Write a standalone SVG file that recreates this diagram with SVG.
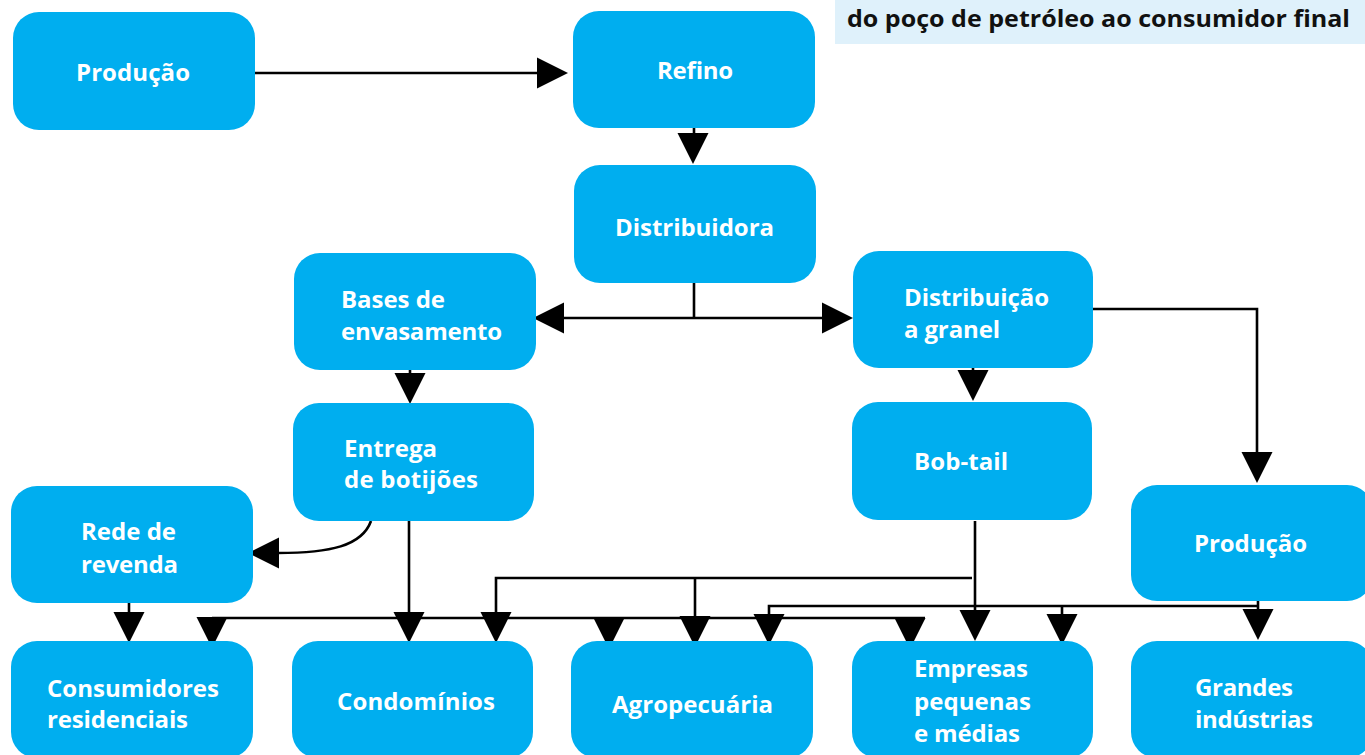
<svg xmlns="http://www.w3.org/2000/svg" xmlns:xlink="http://www.w3.org/1999/xlink" width="1365" height="755" viewBox="0 0 1365 755">
<style>
.box{fill:#00AEEF;}
.t{font-family:"Open Sans","Noto Sans","Liberation Sans",sans-serif;font-weight:700;font-size:24px;fill:#FFFFFF;}
.h{font-family:"Open Sans","Noto Sans","Liberation Sans",sans-serif;font-weight:700;font-size:23px;fill:#111111;}
.ln{fill:none;stroke:#000;stroke-width:2.6;}
.ah{fill:#000;}
</style>
<defs>
<path id="ah" class="ah" d="M-15.5,0 H15.5 L0,31 Z"/>
</defs>
<rect width="1365" height="755" fill="#FFFFFF"/>
<g id="header">
<rect x="835" y="0" width="530" height="44" fill="#DFF1FB"/>
<text class="h" x="847" y="27" textLength="503" lengthAdjust="spacingAndGlyphs">do poço de petróleo ao consumidor final</text>
</g>
<g id="connectors">
<line class="ln" x1="255" y1="73" x2="538" y2="73"/>
<use xlink:href="#ah" transform="translate(537,73) rotate(-90)"/>
<line class="ln" x1="694" y1="128" x2="694" y2="134"/>
<use xlink:href="#ah" transform="translate(693,133)"/>
<line class="ln" x1="694" y1="283" x2="694" y2="318"/>
<line class="ln" x1="563" y1="318" x2="824" y2="318"/>
<use xlink:href="#ah" transform="translate(564,318) rotate(90)"/>
<use xlink:href="#ah" transform="translate(822,318) rotate(-90)"/>
<line class="ln" x1="410" y1="370" x2="410" y2="374"/>
<use xlink:href="#ah" transform="translate(410,373)"/>
<line class="ln" x1="973" y1="368" x2="973" y2="371"/>
<use xlink:href="#ah" transform="translate(973,370)"/>
<polyline class="ln" points="1093,309 1257,309 1257,453"/>
<use xlink:href="#ah" transform="translate(1257,452)"/>
<path class="ln" d="M371,521 C362,546 330,553 278,553"/>
<use xlink:href="#ah" transform="translate(279,553) rotate(90)"/>
<line class="ln" x1="129" y1="603" x2="129" y2="613"/>
<use xlink:href="#ah" transform="translate(129,612)"/>
<line class="ln" x1="409" y1="521" x2="409" y2="613"/>
<use xlink:href="#ah" transform="translate(409,612)"/>
<line class="ln" x1="212" y1="618" x2="925" y2="618"/>
<use xlink:href="#ah" transform="translate(212,617)"/>
<use xlink:href="#ah" transform="translate(609,618)"/>
<use xlink:href="#ah" transform="translate(910,618)"/>
<line class="ln" x1="975" y1="521" x2="975" y2="611"/>
<use xlink:href="#ah" transform="translate(975,610)"/>
<polyline class="ln" points="496,613 496,578 972,578"/>
<use xlink:href="#ah" transform="translate(496,612)"/>
<line class="ln" x1="695" y1="578" x2="695" y2="617"/>
<use xlink:href="#ah" transform="translate(695,616)"/>
<line class="ln" x1="1258" y1="601" x2="1258" y2="610"/>
<use xlink:href="#ah" transform="translate(1258,609)"/>
<polyline class="ln" points="769,615 769,606 1258,606"/>
<use xlink:href="#ah" transform="translate(769,614)"/>
<line class="ln" x1="1062" y1="606" x2="1062" y2="615"/>
<use xlink:href="#ah" transform="translate(1062,614)"/>
</g>
<g id="n-producao-top">
<rect class="box" x="13" y="12" width="242" height="118" rx="26"/>
<text class="t" x="76" y="81" textLength="114">Produção</text>
</g>
<g id="n-refino">
<rect class="box" x="573" y="11" width="242" height="117" rx="26"/>
<text class="t" x="657" y="79" textLength="76">Refino</text>
</g>
<g id="n-distribuidora">
<rect class="box" x="574" y="165" width="242" height="118" rx="26"/>
<text class="t" x="615" y="236" textLength="159">Distribuidora</text>
</g>
<g id="n-bases">
<rect class="box" x="294" y="253" width="242" height="117" rx="26"/>
<text class="t" x="341" y="308" textLength="104">Bases de</text>
<text class="t" x="341" y="340" textLength="161">envasamento</text>
</g>
<g id="n-granel">
<rect class="box" x="853" y="251" width="240" height="117" rx="26"/>
<text class="t" x="904" y="306" textLength="145">Distribuição</text>
<text class="t" x="904" y="338" textLength="96">a granel</text>
</g>
<g id="n-entrega">
<rect class="box" x="293" y="403" width="241" height="118" rx="26"/>
<text class="t" x="344" y="457" textLength="93">Entrega</text>
<text class="t" x="344" y="488" textLength="134">de botijões</text>
</g>
<g id="n-bobtail">
<rect class="box" x="852" y="402" width="240" height="118" rx="26"/>
<text class="t" x="914" y="470" textLength="94">Bob-tail</text>
</g>
<g id="n-rede">
<rect class="box" x="11" y="486" width="242" height="117" rx="26"/>
<text class="t" x="81" y="540" textLength="95">Rede de</text>
<text class="t" x="81" y="573" textLength="97">revenda</text>
</g>
<g id="n-producao-right">
<rect class="box" x="1131" y="485" width="242" height="116" rx="26"/>
<text class="t" x="1194" y="552" textLength="113">Produção</text>
</g>
<g id="n-consumidores">
<rect class="box" x="11" y="641" width="242" height="117" rx="26"/>
<text class="t" x="47" y="697" textLength="172">Consumidores</text>
<text class="t" x="47" y="728" textLength="141">residenciais</text>
</g>
<g id="n-condominios">
<rect class="box" x="292" y="641" width="241" height="117" rx="26"/>
<text class="t" x="337" y="710" textLength="158">Condomínios</text>
</g>
<g id="n-agropecuaria">
<rect class="box" x="571" y="641" width="242" height="117" rx="26"/>
<text class="t" x="612" y="713" textLength="161">Agropecuária</text>
</g>
<g id="n-empresas">
<rect class="box" x="852" y="641" width="241" height="117" rx="26"/>
<text class="t" x="914" y="677" textLength="114">Empresas</text>
<text class="t" x="914" y="710" textLength="117">pequenas</text>
<text class="t" x="914" y="742" textLength="106">e médias</text>
</g>
<g id="n-grandes">
<rect class="box" x="1131" y="641" width="242" height="117" rx="26"/>
<text class="t" x="1195" y="696" textLength="98">Grandes</text>
<text class="t" x="1195" y="728" textLength="118">indústrias</text>
</g>
</svg>
